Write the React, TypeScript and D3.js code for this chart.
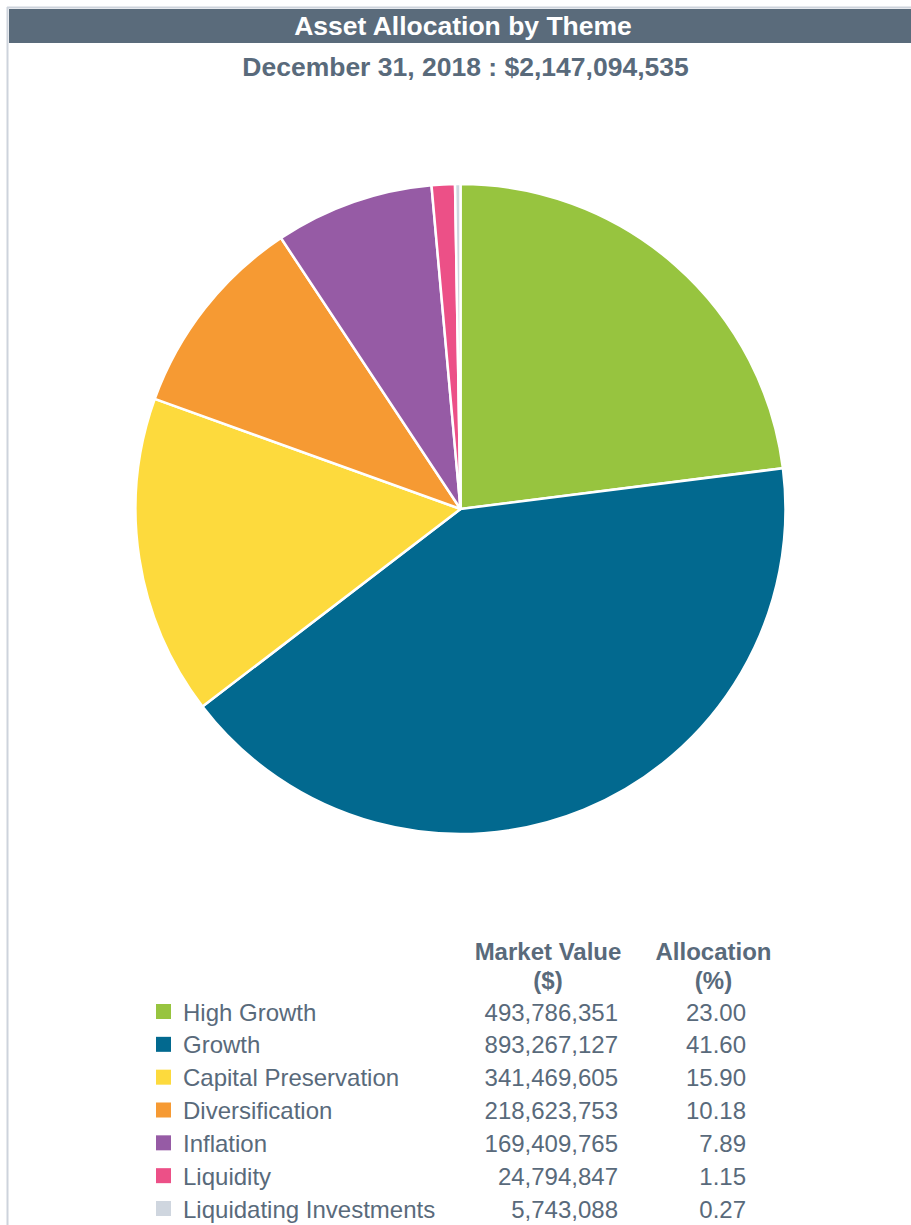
import React from "react";
import * as d3 from "d3";

const categories = [
  "High Growth",
  "Growth",
  "Capital Preservation",
  "Diversification",
  "Inflation",
  "Liquidity",
  "Liquidating Investments",
];
const marketValues = [493786351, 893267127, 341469605, 218623753, 169409765, 24794847, 5743088];
const allocations = [23.0, 41.6, 15.9, 10.18, 7.89, 1.15, 0.27];
const colors = ["#97C43F", "#02698F", "#FDDA3D", "#F69A33", "#965BA5", "#EC5087", "#CFD6DF"];
const title = "Asset Allocation by Theme";
const subtitle = "December 31, 2018 : $2,147,094,535";

const W = 911;
const H = 1225;
const TEXT = "#596A7B";
const FONT = "Arial, 'Liberation Sans', Helvetica, sans-serif";

export default function App() {
  const cx = 460.5;
  const cy = 509;
  const r = 325;

  const pie = d3.pie<number>().sort(null).value((d) => d);
  const arcs = pie(marketValues);
  const arc = d3.arc<d3.PieArcDatum<number>>().innerRadius(0).outerRadius(r);

  const fmt = d3.format(",");
  const fmtPct = d3.format(".2f");

  const rowY = d3
    .scalePoint<string>()
    .domain(categories)
    .range([1020.5, 1217.5]);

  React.useEffect(() => {
    document.body.style.margin = "0";
    document.body.style.overflow = "hidden";
  }, []);

  return (
    <svg
      width={W}
      height={H}
      style={{ position: "absolute", left: 0, top: 0, display: "block" }}
      fontFamily={FONT}
    >
      <rect x={0} y={0} width={W} height={H} fill="#ffffff" />
      {/* frame lines */}
      <line x1={7.5} y1={7} x2={7.5} y2={H} stroke="#CDD3DC" strokeWidth={2} />
      <line x1={7} y1={7.5} x2={W} y2={7.5} stroke="#CDD3DC" strokeWidth={2} />
      {/* header bar */}
      <rect x={9} y={9} width={W - 9} height={34} fill="#5A6B7B" />
      <text
        x={463}
        y={34.5}
        textAnchor="middle"
        fill="#ffffff"
        fontWeight="bold"
        fontSize={26.5}
      >
        {title}
      </text>
      <text
        x={465.5}
        y={75.5}
        textAnchor="middle"
        fill={TEXT}
        fontWeight="bold"
        fontSize={26.5}
      >
        {subtitle}
      </text>

      {/* pie */}
      <g transform={`translate(${cx},${cy})`}>
        {arcs.map((a, i) => (
          <path
            key={categories[i]}
            d={arc(a) || ""}
            fill={colors[i]}
            stroke="#ffffff"
            strokeWidth={2.5}
            strokeLinejoin="round"
          />
        ))}
      </g>

      {/* table legend */}
      <g fill={TEXT} fontSize={24}>
        <text x={548} y={959.5} textAnchor="middle" fontWeight="bold">Market Value</text>
        <text x={548} y={988.5} textAnchor="middle" fontWeight="bold">($)</text>
        <text x={713.5} y={959.5} textAnchor="middle" fontWeight="bold">Allocation</text>
        <text x={713.5} y={988.5} textAnchor="middle" fontWeight="bold">(%)</text>
        {categories.map((c, i) => {
          const y = rowY(c) as number;
          return (
            <g key={c}>
              <rect x={156} y={y - 16.5} width={15} height={15} fill={colors[i]} />
              <text x={183} y={y}>{c}</text>
              <text x={618} y={y} textAnchor="end">{fmt(marketValues[i])}</text>
              <text x={746} y={y} textAnchor="end">{fmtPct(allocations[i])}</text>
            </g>
          );
        })}
      </g>
    </svg>
  );
}
